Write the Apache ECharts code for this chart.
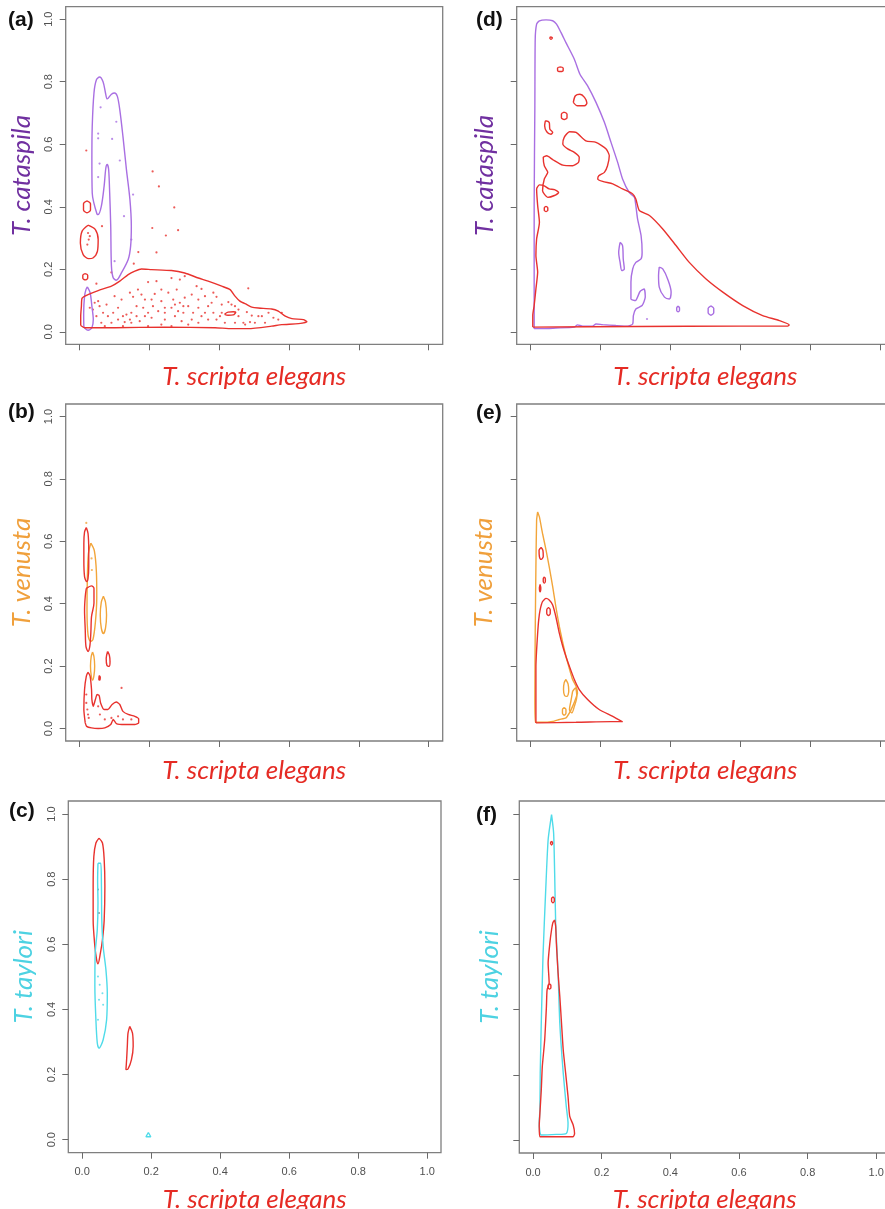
<!DOCTYPE html>
<html>
<head>
<meta charset="utf-8">
<script src="https://cdn.jsdelivr.net/npm/echarts@6/dist/echarts.min.js"></script>
<style>
html,body{margin:0;padding:0;background:#fff;}
#chart{width:885px;height:1209px;}
</style>
</head>
<body>
<div id="chart"></div>
<script>
// ---------- tick values ----------
const X_TICKS = [0, 0.2, 0.4, 0.6, 0.8, 1.0];
const Y_TICKS = [0, 0.2, 0.4, 0.6, 0.8, 1.0];

// ---------- axis titles ----------
const X_TITLE = 'T. scripta elegans';
const Y_TITLES = ['T. cataspila', 'T. cataspila', 'T. venusta', 'T. venusta', 'T. taylori', 'T. taylori'];
const PANEL_LABELS = ['(a)', '(d)', '(b)', '(e)', '(c)', '(f)'];

// ---------- panel (a) ----------
const aPurpleMain = [[0.050,0.375],[0.036,0.444],[0.035,0.550],[0.036,0.657],[0.041,0.764],[0.048,0.806],[0.057,0.815],[0.067,0.800],[0.074,0.764],[0.079,0.745],[0.091,0.760],[0.100,0.764],[0.108,0.753],[0.115,0.710],[0.124,0.625],[0.134,0.519],[0.144,0.423],[0.148,0.338],[0.146,0.274],[0.139,0.231],[0.120,0.189],[0.105,0.165],[0.096,0.173],[0.091,0.210],[0.089,0.338],[0.086,0.444],[0.083,0.519],[0.079,0.535],[0.075,0.524],[0.070,0.465],[0.062,0.401],[0.053,0.375]];
const aPurpleSmall = [[0.022,0.144],[0.030,0.125],[0.035,0.082],[0.039,0.039],[0.035,0.013],[0.024,0.005],[0.012,0.018],[0.0115,0.060],[0.014,0.114],[0.018,0.135]];
const aRedMain = [[0.003,0.020],[0.014,0.013],[0.100,0.013],[0.244,0.015],[0.388,0.013],[0.436,0.010],[0.483,0.010],[0.550,0.018],[0.579,0.023],[0.627,0.026],[0.651,0.032],[0.641,0.039],[0.608,0.042],[0.589,0.050],[0.569,0.066],[0.550,0.073],[0.512,0.076],[0.493,0.079],[0.479,0.087],[0.459,0.098],[0.445,0.114],[0.431,0.135],[0.407,0.146],[0.368,0.162],[0.340,0.172],[0.301,0.188],[0.263,0.196],[0.206,0.199],[0.177,0.201],[0.158,0.194],[0.139,0.183],[0.115,0.162],[0.091,0.146],[0.053,0.132],[0.024,0.119],[0.007,0.108],[0.005,0.082],[0.003,0.050]];
const aRedInner = [[0.415,0.056],[0.425,0.063],[0.440,0.064],[0.447,0.062],[0.440,0.054],[0.425,0.053]];
const aRedCircle1 = [[0.021,0.419],[0.031,0.410],[0.031,0.390],[0.021,0.381],[0.011,0.390],[0.011,0.410]];
const aRedOval = [[0.024,0.341],[0.045,0.327],[0.053,0.295],[0.051,0.258],[0.038,0.236],[0.026,0.234],[0.010,0.247],[0.002,0.284],[0.007,0.322]];
const aRedCircle2 = [[0.016,0.186],[0.023,0.181],[0.023,0.171],[0.016,0.166],[0.009,0.171],[0.009,0.181]];
const aRedDots = [[0.196,0.159],[0.220,0.162],[0.263,0.172],[0.287,0.167],[0.301,0.178],[0.234,0.135],[0.167,0.135],[0.153,0.112],[0.187,0.103],[0.215,0.121],[0.254,0.125],[0.278,0.135],[0.335,0.146],[0.349,0.137],[0.383,0.125],[0.392,0.112],[0.340,0.103],[0.053,0.098],[0.057,0.082],[0.067,0.061],[0.081,0.050],[0.110,0.077],[0.124,0.050],[0.134,0.055],[0.148,0.061],[0.163,0.082],[0.182,0.077],[0.196,0.061],[0.210,0.082],[0.225,0.066],[0.244,0.077],[0.263,0.077],[0.282,0.066],[0.297,0.061],[0.311,0.082],[0.325,0.061],[0.340,0.077],[0.359,0.061],[0.378,0.093],[0.407,0.087],[0.426,0.095],[0.435,0.087],[0.445,0.082],[0.407,0.061],[0.455,0.050],[0.479,0.063],[0.493,0.052],[0.522,0.050],[0.555,0.045],[0.579,0.061],[0.029,0.077],[0.048,0.050],[0.062,0.029],[0.091,0.029],[0.110,0.039],[0.129,0.031],[0.148,0.029],[0.172,0.034],[0.206,0.045],[0.244,0.039],[0.273,0.050],[0.292,0.034],[0.321,0.039],[0.340,0.029],[0.368,0.039],[0.416,0.029],[0.445,0.029],[0.474,0.023],[0.531,0.029],[0.038,0.071],[0.043,0.093],[0.100,0.114],[0.120,0.103],[0.144,0.125],[0.177,0.119],[0.206,0.103],[0.234,0.098],[0.268,0.103],[0.287,0.093],[0.301,0.109],[0.321,0.119],[0.359,0.114],[0.368,0.082],[0.383,0.061],[0.392,0.039],[0.402,0.050],[0.455,0.071],[0.469,0.029],[0.488,0.031],[0.502,0.029],[0.512,0.050],[0.541,0.061],[0.569,0.039],[0.196,0.018],[0.072,0.018],[0.234,0.023],[0.263,0.018],[0.311,0.023],[0.349,0.050],[0.244,0.061],[0.273,0.087],[0.297,0.082],[0.187,0.050],[0.163,0.050],[0.144,0.039],[0.124,0.018],[0.096,0.061],[0.077,0.087],[0.019,0.580],[0.209,0.513],[0.227,0.465],[0.271,0.398],[0.208,0.332],[0.247,0.308],[0.282,0.325],[0.220,0.254],[0.168,0.255],[0.155,0.218],[0.064,0.338],[0.048,0.154],[0.483,0.139],[0.091,0.190],[0.024,0.316],[0.026,0.295],[0.022,0.279],[0.029,0.306]];
const aPurpleDots = [[0.060,0.718],[0.105,0.672],[0.053,0.634],[0.053,0.619],[0.093,0.617],[0.115,0.548],[0.057,0.538],[0.053,0.495],[0.127,0.370],[0.153,0.439],[0.148,0.295],[0.100,0.226]];

// ---------- panel (d) ----------
const dPurpleMain = [[0.010,0.010],[0.010,0.404],[0.012,0.723],[0.013,0.936],[0.017,0.984],[0.025,0.995],[0.044,0.998],[0.063,0.995],[0.074,0.984],[0.087,0.957],[0.101,0.925],[0.125,0.872],[0.141,0.824],[0.163,0.787],[0.187,0.734],[0.211,0.670],[0.230,0.606],[0.249,0.542],[0.263,0.489],[0.282,0.446],[0.297,0.430],[0.301,0.404],[0.306,0.361],[0.316,0.308],[0.319,0.254],[0.316,0.233],[0.301,0.222],[0.292,0.201],[0.287,0.159],[0.287,0.105],[0.300,0.100],[0.313,0.129],[0.325,0.137],[0.328,0.111],[0.319,0.084],[0.301,0.073],[0.294,0.052],[0.292,0.025],[0.278,0.018],[0.244,0.020],[0.206,0.023],[0.187,0.025],[0.177,0.018],[0.149,0.018],[0.134,0.022],[0.125,0.015],[0.072,0.012],[0.034,0.010]];
const dPurpleLoop1 = [[0.256,0.286],[0.263,0.276],[0.265,0.233],[0.268,0.201],[0.261,0.196],[0.256,0.222],[0.252,0.254]];
const dPurpleLoop2 = [[0.368,0.207],[0.378,0.201],[0.392,0.169],[0.402,0.127],[0.397,0.105],[0.383,0.111],[0.368,0.143],[0.366,0.180]];
const dPurpleLoop3 = [[0.422,0.082],[0.426,0.077],[0.426,0.069],[0.422,0.064],[0.418,0.069],[0.418,0.077]];
const dPurpleLoop4 = [[0.516,0.083],[0.524,0.075],[0.524,0.061],[0.516,0.053],[0.508,0.061],[0.508,0.075]];
const dPurpleDots = [[0.333,0.041]];
const dRedMain = [[0.006,0.015],[0.300,0.017],[0.600,0.018],[0.736,0.018],[0.740,0.022],[0.712,0.036],[0.664,0.052],[0.607,0.084],[0.550,0.127],[0.502,0.169],[0.454,0.222],[0.416,0.276],[0.378,0.329],[0.340,0.372],[0.311,0.388],[0.301,0.425],[0.292,0.441],[0.263,0.457],[0.235,0.473],[0.206,0.481],[0.192,0.489],[0.195,0.499],[0.211,0.510],[0.220,0.531],[0.225,0.563],[0.216,0.585],[0.187,0.606],[0.158,0.611],[0.130,0.638],[0.111,0.640],[0.096,0.622],[0.092,0.601],[0.106,0.585],[0.125,0.574],[0.139,0.558],[0.137,0.542],[0.120,0.531],[0.092,0.533],[0.063,0.551],[0.046,0.563],[0.036,0.558],[0.039,0.531],[0.049,0.510],[0.039,0.489],[0.034,0.451],[0.049,0.430],[0.068,0.436],[0.080,0.446],[0.068,0.455],[0.053,0.457],[0.039,0.467],[0.025,0.470],[0.017,0.457],[0.020,0.404],[0.025,0.350],[0.017,0.297],[0.015,0.244],[0.020,0.191],[0.015,0.137],[0.010,0.084],[0.006,0.052]];
const dRedLoopTiny = [[0.054,0.941],[0.058,0.943],[0.062,0.940],[0.058,0.936]];
const dRedLoopA = [[0.085,0.8475],[0.093,0.844],[0.093,0.836],[0.085,0.8325],[0.077,0.836],[0.077,0.844]];
const dRedLoopB = [[0.122,0.734],[0.128,0.755],[0.141,0.760],[0.154,0.750],[0.161,0.732],[0.154,0.723],[0.134,0.723]];
const dRedLoopC = [[0.096,0.703],[0.104,0.697],[0.104,0.685],[0.096,0.679],[0.088,0.685],[0.088,0.697]];
const dRedLoopD = [[0.042,0.675],[0.053,0.670],[0.055,0.648],[0.063,0.638],[0.058,0.632],[0.046,0.640],[0.040,0.659]];
const dRedLoopE = [[0.044,0.401],[0.049,0.397],[0.049,0.389],[0.044,0.385],[0.039,0.389],[0.039,0.397]];

// ---------- panel (b) ----------
const bOrange1 = [[0.032,0.594],[0.042,0.570],[0.048,0.500],[0.049,0.420],[0.045,0.340],[0.038,0.285],[0.031,0.279],[0.024,0.300],[0.021,0.380],[0.022,0.480],[0.025,0.560]];
const bOrange2 = [[0.068,0.424],[0.074,0.405],[0.077,0.364],[0.074,0.322],[0.068,0.304],[0.062,0.322],[0.059,0.364],[0.062,0.405]];
const bOrange3 = [[0.037,0.245],[0.041,0.230],[0.043,0.200],[0.041,0.170],[0.037,0.155],[0.033,0.170],[0.031,0.200],[0.033,0.230]];
const bRedTop = [[0.019,0.644],[0.024,0.625],[0.026,0.572],[0.026,0.519],[0.024,0.481],[0.020,0.471],[0.014,0.487],[0.012,0.540],[0.012,0.593],[0.014,0.630]];
const bRedMid = [[0.019,0.449],[0.034,0.457],[0.041,0.449],[0.041,0.402],[0.034,0.359],[0.032,0.306],[0.029,0.263],[0.024,0.247],[0.018,0.263],[0.016,0.316],[0.014,0.380],[0.016,0.423]];
const bRedSmall = [[0.080,0.247],[0.085,0.235],[0.087,0.215],[0.084,0.199],[0.078,0.203],[0.076,0.225]];
const bRedTiny = [[0.056,0.170],[0.059,0.165],[0.058,0.155],[0.055,0.157]];
const bRedBottom = [[0.016,0.018],[0.012,0.061],[0.014,0.125],[0.019,0.167],[0.024,0.180],[0.030,0.167],[0.034,0.125],[0.035,0.093],[0.039,0.071],[0.045,0.093],[0.050,0.109],[0.056,0.105],[0.060,0.082],[0.070,0.061],[0.081,0.061],[0.093,0.077],[0.105,0.085],[0.115,0.077],[0.124,0.055],[0.139,0.045],[0.158,0.039],[0.169,0.031],[0.169,0.018],[0.158,0.013],[0.129,0.013],[0.105,0.016],[0.096,0.029],[0.089,0.013],[0.072,0.002],[0.053,0.000],[0.034,0.002],[0.020,0.007]];
const bRedDots = [[0.019,0.082],[0.022,0.061],[0.024,0.045],[0.026,0.034],[0.053,0.071],[0.058,0.045],[0.072,0.029],[0.091,0.034],[0.110,0.039],[0.124,0.029],[0.148,0.029],[0.019,0.109],[0.120,0.130]];
const bOrangeDots = [[0.019,0.659],[0.035,0.508],[0.034,0.545]];

// ---------- panel (e) ----------
const eOrangeMain = [[0.020,0.694],[0.025,0.678],[0.034,0.625],[0.044,0.572],[0.053,0.519],[0.063,0.455],[0.072,0.391],[0.082,0.327],[0.092,0.274],[0.101,0.231],[0.109,0.199],[0.120,0.157],[0.130,0.135],[0.134,0.114],[0.128,0.093],[0.120,0.071],[0.111,0.050],[0.101,0.034],[0.082,0.029],[0.063,0.023],[0.034,0.020],[0.013,0.020],[0.012,0.093],[0.013,0.306],[0.015,0.519],[0.017,0.668]];
const eOrangeLoop1 = [[0.101,0.157],[0.107,0.143],[0.109,0.120],[0.104,0.103],[0.097,0.106],[0.094,0.125],[0.096,0.147]];
const eOrangeLoop2 = [[0.120,0.119],[0.128,0.130],[0.132,0.103],[0.125,0.071],[0.118,0.050],[0.111,0.061],[0.115,0.087]];
const eOrangeLoop3 = [[0.096,0.067],[0.101,0.061],[0.101,0.049],[0.096,0.043],[0.091,0.049],[0.091,0.061]];
const eRedMain = [[0.015,0.018],[0.130,0.020],[0.261,0.023],[0.263,0.021],[0.235,0.039],[0.196,0.061],[0.163,0.093],[0.139,0.125],[0.125,0.157],[0.111,0.199],[0.101,0.231],[0.092,0.263],[0.082,0.306],[0.072,0.359],[0.063,0.396],[0.053,0.412],[0.044,0.417],[0.034,0.407],[0.027,0.380],[0.023,0.348],[0.020,0.306],[0.017,0.252],[0.015,0.199],[0.015,0.093]];
const eRedLoop1 = [[0.030,0.580],[0.035,0.571],[0.036,0.551],[0.030,0.542],[0.025,0.551],[0.024,0.571]];
const eRedLoop2 = [[0.039,0.486],[0.042,0.480],[0.042,0.472],[0.039,0.466],[0.036,0.472],[0.036,0.480]];
const eRedLoop3 = [[0.027,0.462],[0.029,0.450],[0.027,0.438],[0.025,0.450]];
const eRedLoop4 = [[0.051,0.388],[0.056,0.381],[0.056,0.369],[0.051,0.362],[0.046,0.369],[0.046,0.381]];

// ---------- panel (c) ----------
const cRed1 = [[0.049,0.926],[0.059,0.911],[0.064,0.860],[0.066,0.778],[0.064,0.675],[0.059,0.614],[0.053,0.573],[0.046,0.540],[0.042,0.553],[0.037,0.594],[0.032,0.675],[0.032,0.778],[0.034,0.870],[0.040,0.911]];
const cRed2 = [[0.138,0.348],[0.146,0.327],[0.148,0.287],[0.143,0.246],[0.133,0.217],[0.127,0.215],[0.129,0.246],[0.131,0.287],[0.133,0.327]];
const cCyan1 = [[0.046,0.849],[0.054,0.849],[0.056,0.778],[0.057,0.675],[0.061,0.594],[0.069,0.522],[0.073,0.450],[0.071,0.368],[0.061,0.307],[0.049,0.281],[0.044,0.297],[0.040,0.368],[0.037,0.471],[0.038,0.573],[0.044,0.645],[0.046,0.727],[0.045,0.798]];
const cCyan2 = [[0.192,0.022],[0.199,0.009],[0.185,0.009]];
const cCyanDots = [[0.046,0.501],[0.051,0.476],[0.049,0.430],[0.061,0.414],[0.059,0.450],[0.046,0.368]];
const cDarkDots = [[0.046,0.768],[0.049,0.696]];

// ---------- panel (f) ----------
const fCyan = [[0.054,0.998],[0.060,0.942],[0.063,0.819],[0.066,0.665],[0.073,0.512],[0.078,0.358],[0.088,0.205],[0.097,0.102],[0.102,0.051],[0.097,0.020],[0.068,0.017],[0.024,0.015],[0.018,0.051],[0.020,0.092],[0.021,0.205],[0.024,0.358],[0.029,0.563],[0.037,0.768],[0.044,0.921]];
const fRed = [[0.063,0.675],[0.066,0.655],[0.068,0.604],[0.073,0.512],[0.078,0.440],[0.083,0.358],[0.088,0.276],[0.095,0.205],[0.102,0.133],[0.107,0.072],[0.117,0.046],[0.121,0.020],[0.117,0.010],[0.088,0.010],[0.058,0.010],[0.020,0.010],[0.018,0.041],[0.020,0.082],[0.024,0.153],[0.027,0.225],[0.034,0.307],[0.039,0.409],[0.041,0.461],[0.047,0.481],[0.044,0.542],[0.049,0.604],[0.054,0.645],[0.058,0.667]];
const fRedLoop1 = [[0.054,0.917],[0.057,0.911],[0.054,0.905],[0.051,0.911]];
const fRedLoop2 = [[0.058,0.746],[0.062,0.741],[0.062,0.733],[0.058,0.728],[0.054,0.733],[0.054,0.741]];
const fRedLoop3 = [[0.048,0.479],[0.052,0.475],[0.052,0.467],[0.048,0.463],[0.044,0.467],[0.044,0.475]];

// ---------- styling ----------
const RED = '#e8322e', PURPLE = '#a96fe2', ORANGE = '#f2a53a', CYAN = '#4fdbe9';
const TITLE_COLORS = { red: '#e52b24', purple: '#7030a0', orange: '#f0a03c', cyan: '#4dd2e2' };

// panel layouts: a, d, b, e, c, f
const layouts = [
  { left: 65.7, top: 6.7, width: 377, height: 337.6, xLab: false, yLab: true, yGap: 31, xGap: 19, yColor: TITLE_COLORS.purple, lab: [8, 10] },
  { left: 516.7, top: 6.7, width: 377.3, height: 337.6, xLab: false, yLab: false, yGap: 19.5, xGap: 19, yColor: TITLE_COLORS.purple, lab: [476, 10] },
  { left: 65.7, top: 404, width: 377, height: 337, xLab: false, yLab: true, yGap: 31, xGap: 17, yColor: TITLE_COLORS.orange, lab: [8, 402] },
  { left: 516.7, top: 404, width: 377.3, height: 337, xLab: false, yLab: false, yGap: 20, xGap: 17, yColor: TITLE_COLORS.orange, lab: [476, 403] },
  { left: 68.3, top: 801, width: 372.7, height: 351.7, xLab: true, yLab: true, yGap: 32, xGap: 34, yColor: TITLE_COLORS.cyan, lab: [9, 801] },
  { left: 519.3, top: 801, width: 370.7, height: 352, xLab: true, yLab: false, yGap: 17, xGap: 34, yColor: TITLE_COLORS.cyan, lab: [476, 805] }
];

const TITLE_FONT = 'Lato';
const grids = [], xAxes = [], yAxes = [], titles = [];
layouts.forEach((L, i) => {
  grids.push({ left: L.left, top: L.top, width: L.width, height: L.height, show: true,
    outerBoundsMode: 'none', containLabel: false,
    borderColor: '#7f7f7f', borderWidth: 1.3, backgroundColor: 'transparent' });
  xAxes.push({
    type: 'value', gridIndex: i, min: -0.04, max: 1.04,
    axisLine: { show: false, onZero: false }, splitLine: { show: false },
    axisTick: { show: true, customValues: X_TICKS, length: 6, lineStyle: { color: '#6a6a6a', width: 1 } },
    axisLabel: { show: L.xLab, customValues: X_TICKS, formatter: v => v.toFixed(1), color: '#505050', fontSize: 11, margin: 14, fontFamily: 'Liberation Sans' },
    name: X_TITLE, nameLocation: 'middle', nameGap: L.xGap,
    nameTextStyle: { color: TITLE_COLORS.red, fontStyle: 'italic', fontSize: 26, fontFamily: TITLE_FONT }
  });
  yAxes.push({
    type: 'value', gridIndex: i, min: -0.04, max: 1.04,
    axisLine: { show: false, onZero: false }, splitLine: { show: false },
    axisTick: { show: true, customValues: Y_TICKS, length: 6, lineStyle: { color: '#6a6a6a', width: 1 } },
    axisLabel: { show: L.yLab, customValues: Y_TICKS, rotate: 90, formatter: v => v.toFixed(1), color: '#505050', fontSize: 11, margin: 11, fontFamily: 'Liberation Sans' },
    name: Y_TITLES[i], nameLocation: 'middle', nameGap: L.yGap,
    nameTextStyle: { color: L.yColor, fontStyle: 'italic', fontSize: 26, fontFamily: TITLE_FONT }
  });
  titles.push({ text: PANEL_LABELS[i], left: L.lab[0], top: L.lab[1], padding: 0,
    textStyle: { fontSize: 21, fontWeight: 'bold', color: '#111', fontFamily: 'Liberation Sans' } });
});

const series = [];
function loop(pts, color, gi, smooth) {
  series.push({ type: 'line', xAxisIndex: gi, yAxisIndex: gi, data: pts.concat([pts[0]]),
    showSymbol: false, smooth: smooth === undefined ? 0.3 : smooth, silent: true,
    lineStyle: { color: color, width: 1.4 } });
}
function dots(pts, color, gi, size) {
  series.push({ type: 'scatter', xAxisIndex: gi, yAxisIndex: gi, data: pts, silent: true,
    symbolSize: size || 2.2, itemStyle: { color: color } });
}

// (a) grid 0
loop(aPurpleMain, PURPLE, 0); loop(aPurpleSmall, PURPLE, 0);
loop(aRedMain, RED, 0, 0.2); loop(aRedInner, RED, 0); loop(aRedCircle1, RED, 0); loop(aRedOval, RED, 0); loop(aRedCircle2, RED, 0);
dots(aRedDots, RED, 0); dots(aPurpleDots, PURPLE, 0);
// (d) grid 1
loop(dPurpleMain, PURPLE, 1, 0.2); loop(dPurpleLoop1, PURPLE, 1); loop(dPurpleLoop2, PURPLE, 1); loop(dPurpleLoop3, PURPLE, 1); loop(dPurpleLoop4, PURPLE, 1);
dots(dPurpleDots, PURPLE, 1);
loop(dRedMain, RED, 1, 0.2); loop(dRedLoopTiny, RED, 1); loop(dRedLoopA, RED, 1); loop(dRedLoopB, RED, 1); loop(dRedLoopC, RED, 1); loop(dRedLoopD, RED, 1); loop(dRedLoopE, RED, 1);
// (b) grid 2
loop(bOrange1, ORANGE, 2); loop(bOrange2, ORANGE, 2); loop(bOrange3, ORANGE, 2);
loop(bRedTop, RED, 2); loop(bRedMid, RED, 2); loop(bRedSmall, RED, 2); loop(bRedTiny, RED, 2); loop(bRedBottom, RED, 2, 0.2);
dots(bRedDots, RED, 2); dots(bOrangeDots, ORANGE, 2);
// (e) grid 3
loop(eOrangeMain, ORANGE, 3, 0.15); loop(eOrangeLoop1, ORANGE, 3); loop(eOrangeLoop2, ORANGE, 3); loop(eOrangeLoop3, ORANGE, 3);
loop(eRedMain, RED, 3, 0.2); loop(eRedLoop1, RED, 3); loop(eRedLoop2, RED, 3); loop(eRedLoop3, RED, 3); loop(eRedLoop4, RED, 3);
// (c) grid 4
loop(cRed1, RED, 4); loop(cRed2, RED, 4); loop(cCyan1, CYAN, 4); loop(cCyan2, CYAN, 4, 0);
dots(cCyanDots, CYAN, 4, 2); dots(cDarkDots, '#777', 4, 2);
// (f) grid 5
loop(fCyan, CYAN, 5, 0.2); loop(fRed, RED, 5, 0.2); loop(fRedLoop1, RED, 5); loop(fRedLoop2, RED, 5); loop(fRedLoop3, RED, 5);

const chart = echarts.init(document.getElementById('chart'), null, { renderer: 'canvas' });
chart.setOption({
  animation: false,
  backgroundColor: '#ffffff',
  title: titles,
  grid: grids,
  xAxis: xAxes,
  yAxis: yAxes,
  series: series
});
</script>
</body>
</html>
